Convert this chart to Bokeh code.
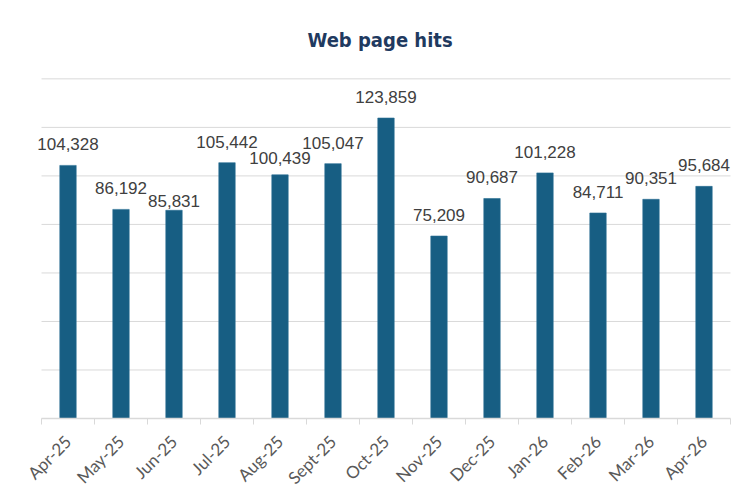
import math
from bokeh.plotting import figure
from bokeh.models import Range1d, FixedTicker, ColumnDataSource, LabelSet
from bokeh.core.properties import value
from bokeh.embed import file_html
from bokeh.resources import INLINE

months = ["Apr-25", "May-25", "Jun-25", "Jul-25", "Aug-25", "Sept-25", "Oct-25",
          "Nov-25", "Dec-25", "Jan-26", "Feb-26", "Mar-26", "Apr-26"]
hits = [104328, 86192, 85831, 105442, 100439, 105047, 123859,
        75209, 90687, 101228, 84711, 90351, 95684]
y_ticks = [0, 20000, 40000, 60000, 80000, 100000, 120000, 140000]
title_text = "Web page hits"

# style: label gap and nudges (px, downward) where the original moved colliding labels
label_gap = 15
label_nudge = {"Jun-25": 12, "Aug-25": 4}

n = len(months)
xs = [i + 0.5 for i in range(n)]
src = ColumnDataSource(dict(
    x=xs, y=hits, lbl=[f"{v:,}" for v in hits], m=months,
    dy=[label_gap - label_nudge.get(m, 0) for m in months]))
grid_src = ColumnDataSource(dict(x0=[0] * len(y_ticks), x1=[n] * len(y_ticks), y=y_ticks))

# a little horizontal slack so the outer value labels are not clipped
pad_l, pad_r = 11 / 53, 8 / 53
p = figure(width=742, height=502, output_backend="svg", toolbar_location=None,
           x_range=Range1d(-pad_l, n + pad_r),
           y_range=Range1d(y_ticks[0], y_ticks[-1] * 1.004),
           min_border_left=30, min_border_right=4, min_border_top=75, min_border_bottom=84)
p.outline_line_color = None
p.background_fill_color = "white"
p.border_fill_color = "white"

p.title.text = title_text
p.title.align = "left"
p.title.offset = 277
p.title.text_font = "DejaVu Sans Condensed"
p.title.text_font_style = "bold"
p.title.text_font_size = "20px"
p.title.text_color = "#1f3a60"
p.title.standoff = 51

# horizontal gridlines spanning only the category area
p.segment(x0="x0", x1="x1", y0="y", y1="y", source=grid_src,
          line_color="#d9d9d9", line_width=1)

p.vbar(x="x", top="y", width=0.31, bottom=0, source=src,
       fill_color="#175e83", line_color="#2a6f93", line_width=0.6)

labels = LabelSet(x="x", y="y", text="lbl", source=src, text_align="center",
                  text_baseline="alphabetic", y_offset="dy",
                  text_font=value("Liberation Sans"), text_font_size=value("17px"),
                  text_color=value("#404040"))
p.add_layout(labels)

# axes
p.yaxis.visible = False
p.ygrid.grid_line_color = None
p.xgrid.grid_line_color = None

xa = p.xaxis[0]
xa.bounds = (0, n)
xa.ticker = FixedTicker(ticks=xs, minor_ticks=list(range(n + 1)))
xa.major_label_overrides = {x: m for x, m in zip(xs, months)}
xa.major_tick_line_color = None
xa.minor_tick_line_color = "#d9d9d9"
xa.minor_tick_out = 6
xa.minor_tick_in = 0
xa.axis_line_color = "#d9d9d9"
xa.axis_line_width = 1.5
xa.major_label_orientation = math.pi / 4
xa.major_label_text_font = "Lato"
xa.major_label_text_font_size = "17px"
xa.major_label_text_color = "#595959"
xa.major_label_standoff = 14

open("out.html", "w").write(file_html(p, INLINE))
